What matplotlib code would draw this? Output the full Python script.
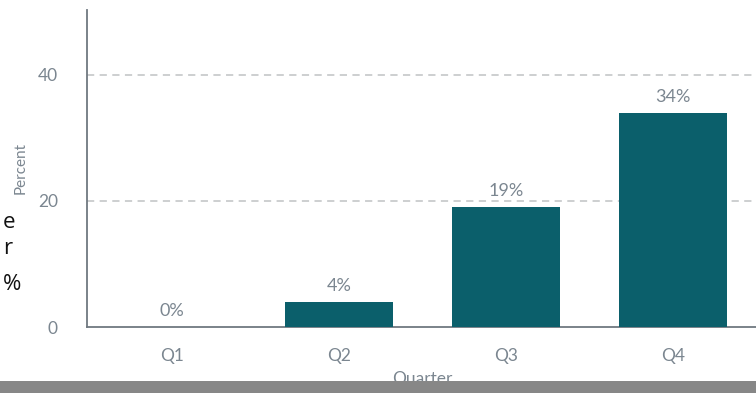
import matplotlib
matplotlib.use("Agg")
import matplotlib.pyplot as plt
from matplotlib.patches import Rectangle

quarters = ["Q1", "Q2", "Q3", "Q4"]
percent = [0, 4, 19, 34]
y_ticks = [0, 20, 40]

BAR = "#0b5f6b"
TEXT = "#7b8690"
AXIS = "#6f7880"
GRID = "#c9cbcd"

plt.rcParams["font.family"] = ["Lato", "DejaVu Sans"]

fig = plt.figure(figsize=(7.56, 3.93), dpi=100)
ax = fig.add_axes([87 / 756, 66 / 393, 671 / 756, 317 / 393])

x = list(range(len(quarters)))
ax.bar(x, percent, width=0.65, color=BAR, zorder=3)
for xi, v in zip(x, percent):
    ax.text(xi, v + 1.3, f"{v}%", ha="center", va="bottom",
            fontsize=13, color=TEXT, zorder=4)

ax.set_xlim(-0.51, 3.51)
ax.set_ylim(0, 50.3)
ax.set_xticks(x)
ax.set_xticklabels(quarters)
ax.set_yticks(y_ticks)
ax.tick_params(axis="both", length=0, labelsize=12.5, colors=TEXT)
ax.tick_params(axis="y", pad=21)
ax.tick_params(axis="x", pad=15)

for y in y_ticks[1:]:
    ax.axhline(y, color=GRID, lw=1.3, ls=(0, (4, 3)), zorder=1)

for side in ["top", "right"]:
    ax.spines[side].set_visible(False)
for side in ["left", "bottom"]:
    ax.spines[side].set_color(AXIS)
    ax.spines[side].set_linewidth(1.3)

ax.set_ylabel("Percent", fontsize=11, color=TEXT)
ax.yaxis.set_label_coords(-0.089, 0.5)
ax.set_xlabel("Quarter", fontsize=12.5, color=TEXT)
ax.xaxis.set_label_coords(0.5, -0.140)

# grey footer band across the bottom
fig.patches.append(Rectangle((0, 0), 1, 12.5 / 393, transform=fig.transFigure,
                             facecolor="#878787", edgecolor="none", zorder=10))

# neighbouring caption text at the left edge
for ypx, s in [(223, "e"), (249, "r"), (284, "%")]:
    fig.text(3 / 756, 1 - ypx / 393, s, ha="left", va="center",
             fontsize=16, color="#111111",
             fontfamily=["Open Sans", "DejaVu Sans"])

fig.savefig("out.png", dpi=100)
